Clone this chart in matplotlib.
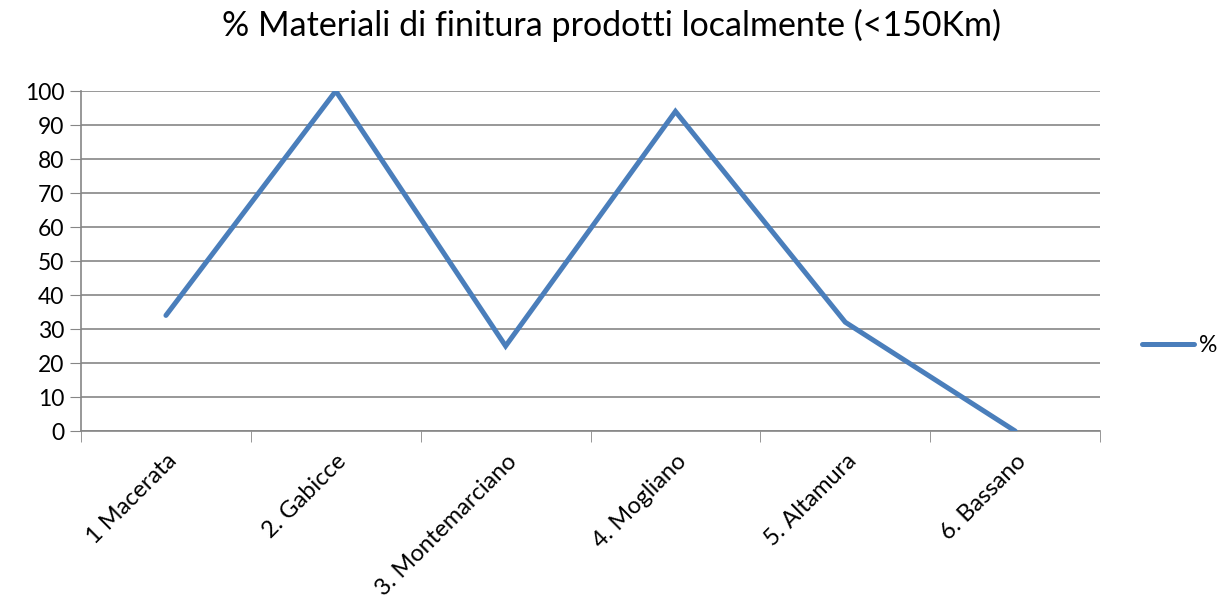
import matplotlib.pyplot as plt

# data
categories = ["1 Macerata", "2. Gabicce", "3. Montemarciano", "4. Mogliano", "5. Altamura", "6. Bassano"]
values = [34, 100, 25, 94, 32, 0]
yticks = list(range(0, 101, 10))

plt.rcParams['font.family'] = ['Lato', 'DejaVu Sans']

fig = plt.figure(figsize=(12.22, 6.08), dpi=100)
ax = fig.add_axes([0.0663, 0.2911, 0.8339, 0.5592])

x = list(range(len(categories)))
ax.plot(x, values, color='#4A7EBB', linewidth=3.6, solid_capstyle='round',
        solid_joinstyle='miter', label='%', zorder=3)

ax.set_xlim(-0.5, len(categories) - 0.5)
ax.set_ylim(0, 100)
ax.set_yticks(yticks)
ax.set_yticklabels([str(v) for v in yticks], fontsize=16.5)

# category labels centred in each bin, tick marks on bin edges
ax.set_xticks(x)
ax.set_xticklabels(categories, rotation=45, ha='right', va='top',
                   rotation_mode='anchor', fontsize=17)
ax.tick_params(axis='x', which='major', length=0, pad=14)
ax.set_xticks([i - 0.5 for i in range(len(categories) + 1)], minor=True)
ax.tick_params(axis='x', which='minor', length=8, color='#868686', direction='out')
ax.tick_params(axis='y', length=8, color='#868686', direction='out', pad=4)

ax.grid(axis='y', color='#868686', linewidth=1.2)
ax.set_axisbelow(True)
for side in ['top', 'right']:
    ax.spines[side].set_visible(False)
for side in ['left', 'bottom']:
    ax.spines[side].set_color('#868686')
    ax.spines[side].set_linewidth(1.2)

fig.suptitle("% Materiali di finitura prodotti localmente (<150Km)", fontsize=24.5, y=0.985)

fig.legend(loc='center left', bbox_to_anchor=(0.921, 0.431), frameon=False,
           fontsize=16.5, handlelength=2.3, handletextpad=0.2, borderpad=0.2)

fig.savefig('out.png', dpi=100)
